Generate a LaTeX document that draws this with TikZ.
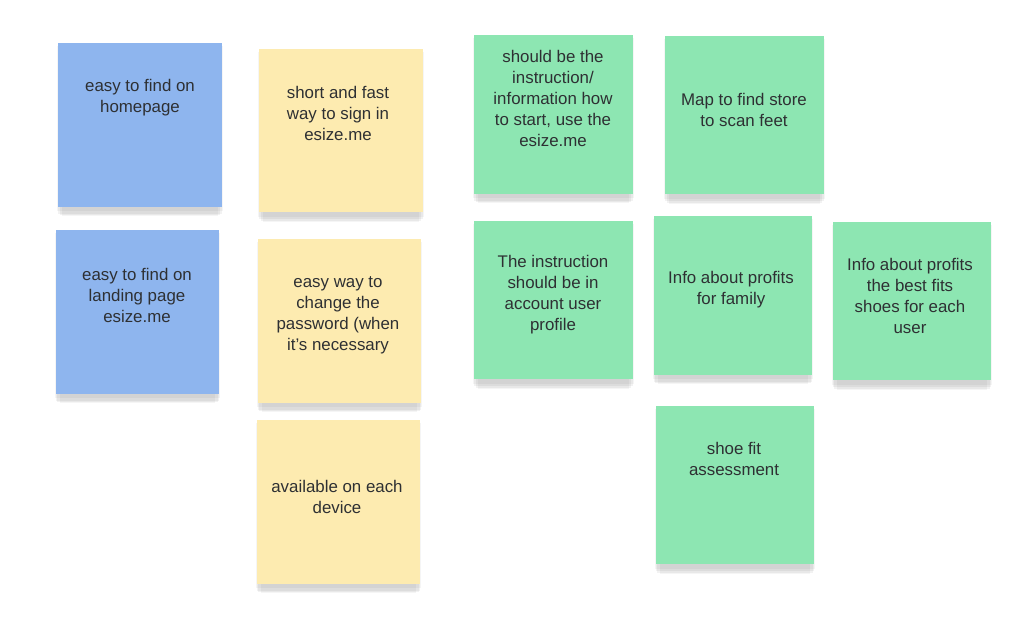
\documentclass[tikz,border=0pt]{standalone}
\usepackage{fontspec}
\setmainfont{Liberation Sans}
\usetikzlibrary{shadows}
\definecolor{noteblue}{HTML}{8EB5EE}
\definecolor{noteyellow}{HTML}{FDEBB0}
\definecolor{notegreen}{HTML}{8DE6B2}
\definecolor{notetext}{HTML}{2E3033}

\begin{document}
\begin{tikzpicture}[x=0.02cm, y=-0.02cm,
    note/.style={inner sep=0pt, minimum width=3.28cm, minimum height=3.27cm,
      drop shadow={shadow xshift=0pt, shadow yshift=-2pt, shadow scale=1.01, opacity=0.04, fill=black},
      drop shadow={shadow xshift=0pt, shadow yshift=-4pt, shadow scale=1.00, opacity=0.05, fill=black},
      drop shadow={shadow xshift=0pt, shadow yshift=-6pt, shadow scale=0.98, opacity=0.05, fill=black},
      drop shadow={shadow xshift=0pt, shadow yshift=-8pt, shadow scale=0.95, opacity=0.04, fill=black}},
    greennote/.style={note, fill=notegreen, minimum width=3.17cm, minimum height=3.17cm},
    notelabel/.style={align=center, inner sep=0pt, text=notetext,
      font=\fontsize{9.6}{11.95}\selectfont}]
  \fill[white] (0,0) rectangle (1024,629);
  \useasboundingbox (0,0) rectangle (1024,629);
  % blue notes
  \node[note, fill=noteblue] (homepage) at (140,125) {};
  \node[notelabel] (homepage-t) at (140,97.5) {easy to find on\\homepage};
  \node[note, fill=noteblue] (landing) at (137.5,312) {};
  \node[notelabel] (landing-t) at (137,295) {easy to find on\\landing page\\esize.me};
  % yellow notes
  \node[note, fill=noteyellow] (signin) at (341,130.5) {};
  \node[notelabel] (signin-t) at (338,113.5) {short and fast\\way to sign in\\esize.me};
  \node[note, fill=noteyellow] (password) at (339.5,321) {};
  \node[notelabel] (password-t) at (338,315.5) {easy way to\\change the\\password (when\\it's necessary};
  \node[note, fill=noteyellow] (device) at (338.5,502) {};
  \node[notelabel] (device-t) at (337,496.5) {available on each\\device};
  % green notes, top row
  \node[greennote] (howto) at (553.5,114.5) {};
  \node[notelabel] (howto-t) at (553,98) {should be the\\instruction/\\information how\\to start, use the\\esize.me};
  \node[greennote] (mapstore) at (744.5,115) {};
  \node[notelabel] (mapstore-t) at (744,109.5) {Map to find store\\to scan feet};
  % green notes, middle row
  \node[greennote] (profile) at (553.5,300) {};
  \node[notelabel] (profile-t) at (553,294.5) {The instruction\\should be in\\account user\\profile};
  \node[greennote] (family) at (733,295.5) {};
  \node[notelabel] (family-t) at (731,290) {Info about profits\\for family};
  \node[greennote] (bestfit) at (912,301) {};
  \node[notelabel] (bestfit-t) at (910,295.5) {Info about profits\\the best fits\\shoes for each\\user};
  % green note, bottom
  \node[greennote] (shoefit) at (735,485) {};
  \node[notelabel] (shoefit-t) at (734,458.5) {shoe fit\\assessment};
\end{tikzpicture}
\end{document}
